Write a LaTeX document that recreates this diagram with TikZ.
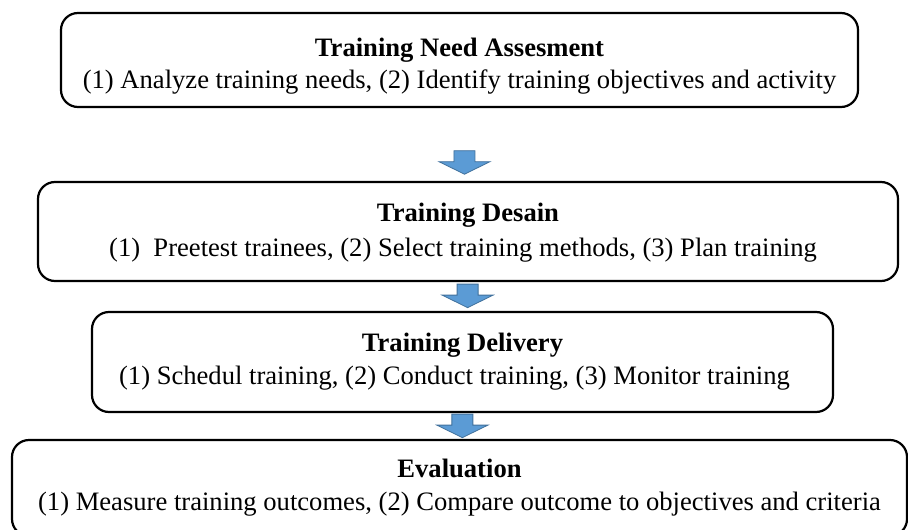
\documentclass[tikz,border=0pt]{standalone}
\usepackage{fontspec}
\setmainfont{Liberation Serif}
\usepackage{xcolor}
\usepackage{tikz}
\usetikzlibrary{calc}

\definecolor{flowblue}{HTML}{5B9BD5}
\definecolor{flowedge}{HTML}{41719C}

% strut on the title line, pushes the two lines down in the box
\newcommand{\titlelift}[1]{\rule{0pt}{#1}}

\begin{document}
\begin{tikzpicture}[x=0.5pt, y=-0.5pt,
    phase/.style={draw, line width=1.1pt, rounded corners=8.5pt, align=center,
        inner sep=0pt, font=\fontsize{13.3}{16.5}\selectfont},
    pics/downarrow/.style={code={
        \draw[fill=flowblue, draw=flowedge, line width=0.4pt]
            (-10.5,0) -- (10.5,0) -- (10.5,11) -- (25.5,11) -- (0,23.5)
            -- (-25.5,11) -- (-10.5,11) -- cycle;}}]
    \fill[white] (0,0) rectangle (908,529);
    \useasboundingbox (0,0) rectangle (908,529);
    \clip (0,0) rectangle (908,529);

    \node[phase, minimum width=398.5pt, minimum height=47pt,
        font=\fontsize{13.3}{15.9}\selectfont] (need) at (459.5,60)
        {\titlelift{15pt}\textbf{Training Need Assesment}\\(1) Analyze training needs, (2) Identify training objectives and activity};
    \node[phase, minimum width=430pt, minimum height=49.5pt,
        font=\fontsize{13.3}{17.5}\selectfont] (desain) at (468,231.5)
        {\titlelift{10.5pt}\textbf{Training Desain}\\(1)\ \ Preetest trainees, (2) Select training methods, (3) Plan training\hspace*{5pt}};
    \node[phase, minimum width=370.5pt, minimum height=50pt] (deliv) at (462.5,362)
        {\textbf{Training Delivery}\\(1) Schedul training, (2) Conduct training, (3) Monitor training\hspace*{8pt}};
    \node[phase, minimum width=447.5pt, minimum height=48pt] (eval) at (459.5,488)
        {\textbf{Evaluation}\\(1) Measure training outcomes, (2) Compare outcome to objectives and criteria};

    \pic at ($(need.south)!0.585!(desain.north)$) {downarrow};
    \pic at ($(desain.south)!0.07!(deliv.north)$) {downarrow};
    \pic at ($(deliv.south)!0.04!(eval.north)$) {downarrow};
\end{tikzpicture}
\end{document}
